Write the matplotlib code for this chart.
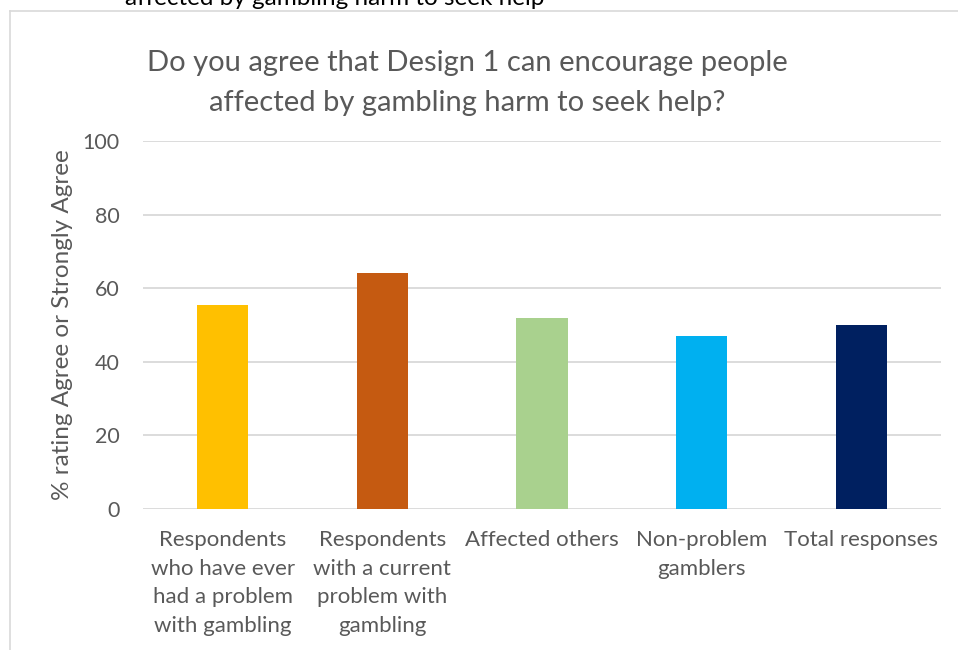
import matplotlib
matplotlib.use("Agg")
import matplotlib.pyplot as plt
import numpy as np

# survey groups and share answering Agree / Strongly Agree
categories = [
    "Respondents\nwho have ever\nhad a problem\nwith gambling",
    "Respondents\nwith a current\nproblem with\ngambling",
    "Affected others",
    "Non-problem\ngamblers",
    "Total responses",
]
agree_pct = [55.3, 64, 52, 47, 50]
bar_colors = ["#FFC000", "#C55A11", "#A9D18E", "#00B0F0", "#002060"]
yticks = [0, 20, 40, 60, 80, 100]

title = "Do you agree that Design 1 can encourage people\naffected by gambling harm to seek help?"
ylabel = "% rating Agree or Strongly Agree"
caption_above = "affected by gambling harm to seek help"

grey = "#595959"
plt.rcParams["font.family"] = ["Lato", "DejaVu Sans"]

fig = plt.figure(figsize=(9.58, 6.5), dpi=100)

# chart frame (only top and left edges fall inside the image)
fig.add_artist(plt.Line2D([9.5 / 958, 1], [1 - 10.5 / 650] * 2,
                          color="#D9D9D9", lw=1.2, transform=fig.transFigure))
fig.add_artist(plt.Line2D([9.5 / 958] * 2, [0, 1 - 10.5 / 650],
                          color="#D9D9D9", lw=1.2, transform=fig.transFigure))

# tail end of the text sitting above the chart
fig.text(335 / 958, 1 - 4.7 / 650, caption_above, ha="center", va="baseline",
         fontsize=17.5, color="black")

ax = fig.add_axes([143 / 958, 1 - 509 / 650, 798 / 958, 368 / 650])
x = np.arange(len(categories))
ax.bar(x, agree_pct, width=0.32, color=bar_colors, zorder=3)

ax.set_xlim(-0.5, len(categories) - 0.5)
ax.set_ylim(0, 100)
ax.set_yticks(yticks)
ax.set_xticks(x)
ax.set_xticklabels(categories, fontsize=16, color=grey, linespacing=1.55)
ax.tick_params(axis="y", labelsize=15.5, labelcolor=grey, length=0, pad=17)
ax.tick_params(axis="x", length=0, pad=15)
ax.yaxis.grid(True, color="#D9D9D9", lw=1.3, zorder=0)
for s in ax.spines.values():
    s.set_visible(False)

ax.set_ylabel(ylabel, fontsize=17.5, color=grey)
ax.yaxis.set_label_coords(-70 / 798, 0.5)
fig.text(467 / 958, 1 - 83 / 650, title, ha="center", va="center",
         fontsize=21, color=grey, linespacing=1.7)

fig.savefig("out.png", dpi=100)
